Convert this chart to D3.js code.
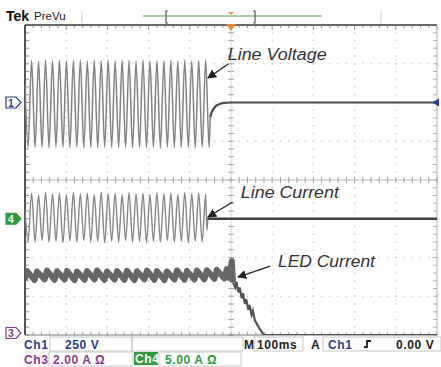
<!DOCTYPE html>
<html><head><meta charset="utf-8">
<script src="https://cdn.jsdelivr.net/npm/d3@7"></script>
<style>body{margin:0;background:#fff}svg{display:block}</style>
</head><body><svg id="c" width="441" height="367"></svg>
<script>
// ---------------- data ----------------
const timeDomainMs = [0, 1000];          // 10 div x 100 ms
const divDomain = [-4, 4];               // 8 vertical divisions
// Ch1 line voltage (V), extrema sampled every half cycle
const voltT0 = 7.55, voltStep = 8.45;
const voltLeadT = [0], voltLeadV = [120];
const voltExtrema = [
 -288, 272, -291, 268, -289, 274, -292, 270, -287, 273,
 -290, 269, -293, 271, -288, 275, -291, 268, -289, 272,
 -292, 270, -288, 274, -290, 269, -291, 273, -287, 271,
 -292, 268, -289, 274, -290, 270, -288, 272, -293, 269,
 -289, 273, -291, 270, -288, 275, -290, 268, -292, 271,
 -289, 272, -290];
const voltTailT = [449.5, 452, 456, 461, 468, 480, 500, 1000];
const voltTailV = [-95, -70, -48, -29, -15, -4, 0, 0];
// Ch4 line current (A)
const currLeadT = [0], currLeadV = [1.2];
const currExtrema = [
 -2.9, 3.3, -3.0, 3.1, -2.8, 3.4, -3.0, 3.2, -2.9, 3.3,
 -3.1, 3.1, -2.9, 3.4, -3.0, 3.2, -2.8, 3.3, -3.0, 3.1,
 -2.9, 3.4, -3.1, 3.2, -2.9, 3.3, -3.0, 3.1, -2.8, 3.4,
 -3.0, 3.2, -2.9, 3.3, -3.1, 3.1, -2.9, 3.4, -3.0, 3.2,
 -2.8, 3.3, -3.0, 3.1, -2.9, 3.4, -3.1, 3.2, -2.9, 3.3,
 -3.0, 3.2];
const currTailT = [441.5, 444, 447, 1000];
const currTailV = [-1.5, 0.1, 0, 0];
// Ch3 LED current (A): ripple teeth
const ledPeakT0 = 5, ledStep = 24.25, ledRise = 6;
const ledPeaks = [3.30,3.28,3.32,3.29,3.31,3.27,3.30,3.33,3.28,3.30,3.31,3.29,3.32,3.30,3.28,3.33,3.31,3.32,3.34,3.36,3.40];
const ledTroughs = [2.86,2.84,2.87,2.85,2.86,2.83,2.85,2.87,2.84,2.86,2.85,2.84,2.87,2.85,2.84,2.86,2.86,2.87,2.88,2.90,2.92];
const ledEndT = [496, 502, 505];
const ledEndV = [2.95, 3.82, 2.70];
const ledTailT = [505, 510, 513, 518, 521, 526, 529, 534, 537, 542, 545, 550, 553, 558, 562, 568, 574, 578, 585, 1000];
const ledTailV = [2.70, 2.45, 2.75, 2.2, 2.45, 1.9, 2.15, 1.6, 1.85, 1.3, 1.55, 1.05, 1.25, 0.75, 0.6, 0.38, 0.18, 0.05, 0, 0];
// channel settings (position in div, units per div)
const chPos = {ch1: 2, ch4: -1, ch3: -4};
const chScale = {ch1: 250, ch4: 5, ch3: 2};
// texts
const annotations = ["Line Voltage", "Line Current", "LED Current"];
const statusRow1 = ["Ch1", "250 V", "M", "100ms", "A", "Ch1", "0.00 V"];
const statusRow2 = ["Ch3", "2.00 A \u03A9", "Ch4", "5.00 A \u03A9"];

// ---------------- drawing ----------------
const svg = d3.select("#c");
const X0 = 25, X1 = 437, Y0 = 25, Y1 = 335;
const x = d3.scaleLinear().domain(timeDomainMs).range([X0, X1]);
const yDiv = d3.scaleLinear().domain(divDomain).range([Y1, Y0]);
const chY = k => d3.scaleLinear().domain([0, chScale[k]]).range([yDiv(chPos[k]), yDiv(chPos[k] + 1)]);
const y1 = chY("ch1"), y4 = chY("ch4"), y3 = chY("ch3");
const xDiv = d3.scaleLinear().domain([0, 10]).range([X0, X1]);

svg.append("defs").append("clipPath").attr("id", "plot")
  .append("rect").attr("x", X0).attr("y", Y0 - 2).attr("width", X1 - X0).attr("height", Y1 - Y0 + 2);
const arrowDef = svg.select("defs").append("marker").attr("id", "ah")
  .attr("viewBox", "0 0 10 10").attr("refX", 9).attr("refY", 5)
  .attr("markerWidth", 9).attr("markerHeight", 9).attr("markerUnits", "userSpaceOnUse").attr("orient", "auto");
arrowDef.append("path").attr("d", "M0,0 L10,5 L0,10 Z").attr("fill", "#222");

// graticule dots
const g = svg.append("g");
const dotCol = "#bdbdbd";
for (let i = 1; i < 10; i++) {
  for (let j = 0; j <= 40; j++) {
    const yy = yDiv(-4 + j * 0.2);
    g.append("rect").attr("x", xDiv(i) - 0.6).attr("y", yy - 0.6).attr("width", 1.2).attr("height", 1.2).attr("fill", dotCol);
  }
}
for (let j = 1; j < 8; j++) {
  for (let i = 0; i <= 50; i++) {
    g.append("rect").attr("x", xDiv(i * 0.2) - 0.6).attr("y", yDiv(-4 + j) - 0.6).attr("width", 1.2).attr("height", 1.2).attr("fill", dotCol);
  }
}
// center line ticks
const tickCol = "#9a9a9a";
for (let j = 0; j <= 40; j++) {
  const yy = yDiv(-4 + j * 0.2);
  g.append("line").attr("x1", xDiv(5) - 3).attr("x2", xDiv(5) + 3).attr("y1", yy).attr("y2", yy).attr("stroke", tickCol).attr("stroke-width", 0.9);
  g.append("line").attr("x1", X0).attr("x2", X0 + 4).attr("y1", yy).attr("y2", yy).attr("stroke", "#888").attr("stroke-width", 0.9);
  g.append("line").attr("x1", X1 - 4).attr("x2", X1).attr("y1", yy).attr("y2", yy).attr("stroke", "#aaa").attr("stroke-width", 0.9);
}
for (let i = 0; i <= 50; i++) {
  const xx = xDiv(i * 0.2);
  g.append("line").attr("x1", xx).attr("x2", xx).attr("y1", yDiv(0) - 3).attr("y2", yDiv(0) + 3).attr("stroke", tickCol).attr("stroke-width", 0.9);
  g.append("line").attr("x1", xx).attr("x2", xx).attr("y1", Y0).attr("y2", Y0 + (i % 5 === 0 ? 5 : 3)).attr("stroke", "#888").attr("stroke-width", 0.9);
  g.append("line").attr("x1", xx).attr("x2", xx).attr("y1", Y1 - 3).attr("y2", Y1).attr("stroke", "#999").attr("stroke-width", 0.9);
}
g.append("line").attr("x1", X0).attr("x2", X1).attr("y1", yDiv(0)).attr("y2", yDiv(0)).attr("stroke", "#a8a8a8").attr("stroke-width", 0.7);
g.append("line").attr("x1", xDiv(5)).attr("x2", xDiv(5)).attr("y1", Y0).attr("y2", Y1).attr("stroke", "#c4c4c4").attr("stroke-width", 0.7);
// border
g.append("line").attr("x1", X0).attr("x2", X1).attr("y1", Y0).attr("y2", Y0).attr("stroke", "#6a6a6a").attr("stroke-width", 2);
g.append("line").attr("x1", X0).attr("x2", X0).attr("y1", Y0).attr("y2", Y1).attr("stroke", "#555").attr("stroke-width", 2);
g.append("line").attr("x1", X1).attr("x2", X1).attr("y1", Y0).attr("y2", Y1).attr("stroke", "#b0b0b0").attr("stroke-width", 1);
g.append("line").attr("x1", X0).attr("x2", X1).attr("y1", Y1).attr("y2", Y1).attr("stroke", "#777").attr("stroke-width", 1.2);

// traces
const tr = svg.append("g").attr("clip-path", "url(#plot)");
const buildExt = (leadT, leadV, t0, step, ext) => {
  const pts = leadT.map((t, i) => [t, leadV[i]]);
  ext.forEach((v, i) => pts.push([t0 + i * step, v]));
  return pts;
};
const zip = (T, V) => T.map((t, i) => [t, V[i]]);

const voltPts = buildExt(voltLeadT, voltLeadV, voltT0, voltStep, voltExtrema);
const line1 = d3.line().x(d => x(d[0])).y(d => y1(d[1])).curve(d3.curveMonotoneX);
tr.append("path").attr("d", line1(voltPts.concat([zip(voltTailT, voltTailV)[0]])))
  .attr("fill", "none").attr("stroke", "#828282").attr("stroke-width", 1.5);
tr.append("path").attr("d", line1(zip(voltTailT, voltTailV)))
  .attr("fill", "none").attr("stroke", "#4a4a4a").attr("stroke-width", 2.2);

const currPts = buildExt(currLeadT, currLeadV, voltT0, voltStep, currExtrema);
const line4 = d3.line().x(d => x(d[0])).y(d => y4(d[1])).curve(d3.curveMonotoneX);
const currTail = zip(currTailT, currTailV);
tr.append("path").attr("d", line4(currPts.concat(currTail.slice(0, 2))))
  .attr("fill", "none").attr("stroke", "#868686").attr("stroke-width", 1.4);
tr.append("path").attr("d", line4(currTail.slice(1)))
  .attr("fill", "none").attr("stroke", "#3e3e3e").attr("stroke-width", 2.4);

const ledPts = [];
ledPeaks.forEach((p, k) => {
  const tp = ledPeakT0 + k * ledStep;
  ledPts.push([tp - ledRise, ledTroughs[k]]);
  ledPts.push([tp, p]);
});
zip(ledEndT, ledEndV).forEach(d => ledPts.push(d));
const line3 = d3.line().x(d => x(d[0])).y(d => y3(d[1]));
tr.append("path").attr("d", line3(ledPts))
  .attr("fill", "none").attr("stroke", "#666").attr("stroke-width", 6).attr("stroke-linejoin", "round");
tr.append("path").attr("d", line3(zip(ledTailT, ledTailV)))
  .attr("fill", "none").attr("stroke", "#555").attr("stroke-width", 2.2);

// annotations (positions in channel units)
const ann = svg.append("g").attr("font-family", "'Liberation Sans', Arial, sans-serif")
  .attr("font-style", "italic").attr("font-size", 16).attr("fill", "#333");
const annPos = [
  {t: 492, val: 274, w: 99, ax1: 493, av1: 248, ax2: 444, av2: 158, ys: y1},
  {t: 524, val: 2.68, w: 98, ax1: 504, av1: 2.16, ax2: 444, av2: 0.23, ys: y4},
  {t: 614, val: 3.51, w: 97, ax1: 595, av1: 3.56, ax2: 517, av2: 2.99, ys: y3}
];
annotations.forEach((s, i) => {
  const a = annPos[i];
  ann.append("text").attr("x", x(a.t)).attr("y", a.ys(a.val)).attr("textLength", a.w)
    .attr("lengthAdjust", "spacingAndGlyphs").text(s);
  svg.append("line").attr("x1", x(a.ax1)).attr("y1", a.ys(a.av1)).attr("x2", x(a.ax2)).attr("y2", a.ys(a.av2))
    .attr("stroke", "#222").attr("stroke-width", 1.3).attr("marker-end", "url(#ah)");
});

// channel markers
const c1 = "#2b3a96", c3 = "#8a3a8c", c4 = "#2f9a40";
const marker = (yc, col, filled, label) => {
  svg.append("path").attr("d", `M6,${yc - 5.5} H16 L21,${yc} L16,${yc + 5.5} H6 Z`)
    .attr("fill", filled ? col : "#fff").attr("stroke", col).attr("stroke-width", 1.2);
  svg.append("text").attr("x", 11).attr("y", yc + 4).attr("text-anchor", "middle")
    .attr("font-family", "'Liberation Sans', Arial, sans-serif").attr("font-weight", "bold").attr("font-size", 10.5)
    .attr("fill", filled ? "#fff" : col).text(label);
};
marker(y1(0), c1, false, "1");
marker(y4(0), c4, true, "4");
marker(y3(0) - 2, c3, false, "3");
svg.append("path").attr("d", `M432,${y1(0)} L439,${y1(0) - 4} L439,${y1(0) + 4} Z`).attr("fill", c1);

// header
const font = "'Liberation Sans', Arial, sans-serif";
svg.append("text").attr("x", 6).attr("y", 21).attr("font-family", font).attr("font-weight", "bold").attr("font-size", 14).attr("fill", "#111").text("Tek");
svg.append("text").attr("x", 34).attr("y", 20).attr("font-family", font).attr("font-size", 11.5).attr("fill", "#222").text("PreVu");
svg.append("line").attr("x1", 82).attr("x2", 82).attr("y1", 11).attr("y2", 23).attr("stroke", "#ccc");
svg.append("line").attr("x1", 381).attr("x2", 381).attr("y1", 11).attr("y2", 23).attr("stroke", "#ccc");
svg.append("line").attr("x1", 143).attr("x2", 322).attr("y1", 16).attr("y2", 16).attr("stroke", "#8cc48c").attr("stroke-width", 1.3);
svg.append("path").attr("d", "M168,11 H166 V23 H168").attr("fill", "none").attr("stroke", "#555").attr("stroke-width", 1.2);
svg.append("path").attr("d", "M253,11 H255 V23 H253").attr("fill", "none").attr("stroke", "#555").attr("stroke-width", 1.2);
svg.append("path").attr("d", `M${xDiv(5) - 3},12 L${xDiv(5) + 3},12 L${xDiv(5)},15 Z`).attr("fill", "#e8893a");
svg.append("path").attr("d", `M${xDiv(5) - 5},24 L${xDiv(5) + 5},24 L${xDiv(5)},31 Z`).attr("fill", "#e8893a");

// status bar
const sb = svg.append("g").attr("font-family", font).attr("font-weight", "bold").attr("font-size", 12).attr("letter-spacing", 0.6);
const box = (x0, y0, w, h) => sb.append("rect").attr("x", x0).attr("y", y0).attr("width", w).attr("height", h)
  .attr("fill", "none").attr("stroke", "#c8c8c8").attr("stroke-width", 1);
box(50, 337, 82, 14); box(132, 337, 111, 14); box(254, 337, 49, 14); box(323, 337, 118, 14);
box(49, 352, 84, 14); box(159, 352, 82, 14);
sb.append("rect").attr("x", 134).attr("y", 352).attr("width", 24).attr("height", 13).attr("fill", c4);
const txt = (xx, yy, s, col) => sb.append("text").attr("x", xx).attr("y", yy).attr("fill", col).text(s);
txt(24, 349, statusRow1[0], c1);
txt(65, 349, statusRow1[1], c1);
txt(244, 349, statusRow1[2], "#222");
txt(257, 349, statusRow1[3], "#222");
txt(311, 349, statusRow1[4], "#222");
txt(328, 349, statusRow1[5], c1);
sb.append("path").attr("d", "M364,347 H367 V341 H371").attr("fill", "none").attr("stroke", "#222").attr("stroke-width", 1.8);
txt(396, 349, statusRow1[6], "#222");
txt(24, 364, statusRow2[0], c3);
txt(53, 364, statusRow2[1], c3);
txt(135, 363, statusRow2[2], "#fff");
txt(165, 364, statusRow2[3], c4);
</script></body></html>
